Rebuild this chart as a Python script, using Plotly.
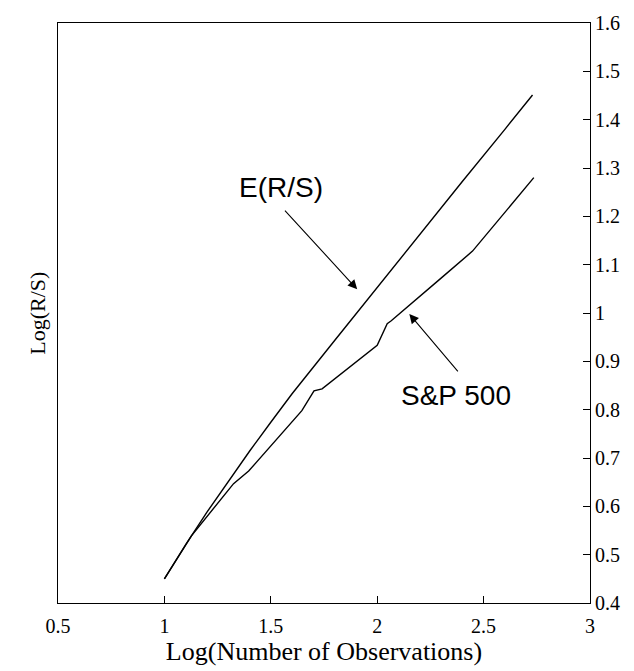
import plotly.graph_objects as go

# Rescaled range analysis: expected R/S versus S&P 500 (log-log)
ers_x = [1.0, 1.1, 1.2, 1.3, 1.4, 1.5, 1.6, 1.8, 2.0, 2.2, 2.4, 2.6, 2.73]
ers_y = [0.450, 0.521, 0.588, 0.652, 0.714, 0.774, 0.833, 0.943, 1.053, 1.163, 1.272, 1.380, 1.451]

sp_x = [1.0, 1.127, 1.325, 1.396, 1.646, 1.703, 1.741, 2.0, 2.047, 2.066, 2.292, 2.448, 2.736]
sp_y = [0.450, 0.539, 0.647, 0.673, 0.798, 0.839, 0.843, 0.933, 0.978, 0.984, 1.069, 1.128, 1.280]

x_ticks = [0.5, 1.0, 1.5, 2.0, 2.5, 3.0]
x_tick_text = ["0.5", "1", "1.5", "2", "2.5", "3"]
y_ticks = [0.4, 0.5, 0.6, 0.7, 0.8, 0.9, 1.0, 1.1, 1.2, 1.3, 1.4, 1.5, 1.6]
y_tick_text = ["0.4", "0.5", "0.6", "0.7", "0.8", "0.9", "1", "1.1", "1.2", "1.3", "1.4", "1.5", "1.6"]

serif = "Liberation Serif, Times New Roman, serif"
sans = "Liberation Sans, Arial, sans-serif"

fig = go.Figure()
fig.add_trace(go.Scatter(x=ers_x, y=ers_y, mode="lines", name="E(R/S)",
                         line=dict(color="black", width=1.4)))
fig.add_trace(go.Scatter(x=sp_x, y=sp_y, mode="lines", name="S&P 500",
                         line=dict(color="black", width=1.4)))

annotations = [
    # series labels
    dict(x=1.55, y=1.26, xref="x", yref="y", text="E(R/S)", showarrow=False,
         xanchor="center", yanchor="middle", font=dict(family=sans, size=28, color="black")),
    dict(x=2.37, y=0.83, xref="x", yref="y", text="S&P 500", showarrow=False,
         xanchor="center", yanchor="middle", font=dict(family=sans, size=28, color="black")),
    # pointer arrows
    dict(x=1.906, y=1.049, xref="x", yref="y", ax=1.56, ay=1.215, axref="x", ayref="y",
         text="", showarrow=True, arrowhead=2, arrowsize=1.7, arrowwidth=1.1, arrowcolor="black"),
    dict(x=2.151, y=0.998, xref="x", yref="y", ax=2.385, ay=0.876, axref="x", ayref="y",
         text="", showarrow=True, arrowhead=2, arrowsize=1.7, arrowwidth=1.1, arrowcolor="black"),
    # left-hand axis title
    dict(x=-0.04, y=0.5, xref="paper", yref="paper", text="Log(R/S)", showarrow=False,
         textangle=-90, xanchor="center", yanchor="middle",
         font=dict(family=serif, size=22, color="black")),
]

fig.update_layout(
    width=634, height=671,
    margin=dict(l=58, r=44, t=20, b=63),
    paper_bgcolor="white", plot_bgcolor="white",
    showlegend=False,
    annotations=annotations,
    xaxis=dict(
        range=[0.5, 3.0], tickvals=x_ticks, ticktext=x_tick_text,
        ticks="inside", ticklen=7, tickcolor="black", tickwidth=1,
        showline=True, linecolor="black", linewidth=1.2, mirror=True,
        showgrid=False, zeroline=False, ticklabelstandoff=5,
        tickfont=dict(family=serif, size=20, color="black"),
        title=dict(text="Log(Number of Observations)", standoff=4,
                   font=dict(family=serif, size=26, color="black")),
    ),
    yaxis=dict(
        range=[0.4, 1.6], tickvals=y_ticks, ticktext=y_tick_text, side="right",
        ticks="inside", ticklen=7, tickcolor="black", tickwidth=1,
        showline=True, linecolor="black", linewidth=1.2, mirror=True,
        showgrid=False, zeroline=False,
        tickfont=dict(family=serif, size=20, color="black"),
    ),
)

fig.write_html("out.html")
